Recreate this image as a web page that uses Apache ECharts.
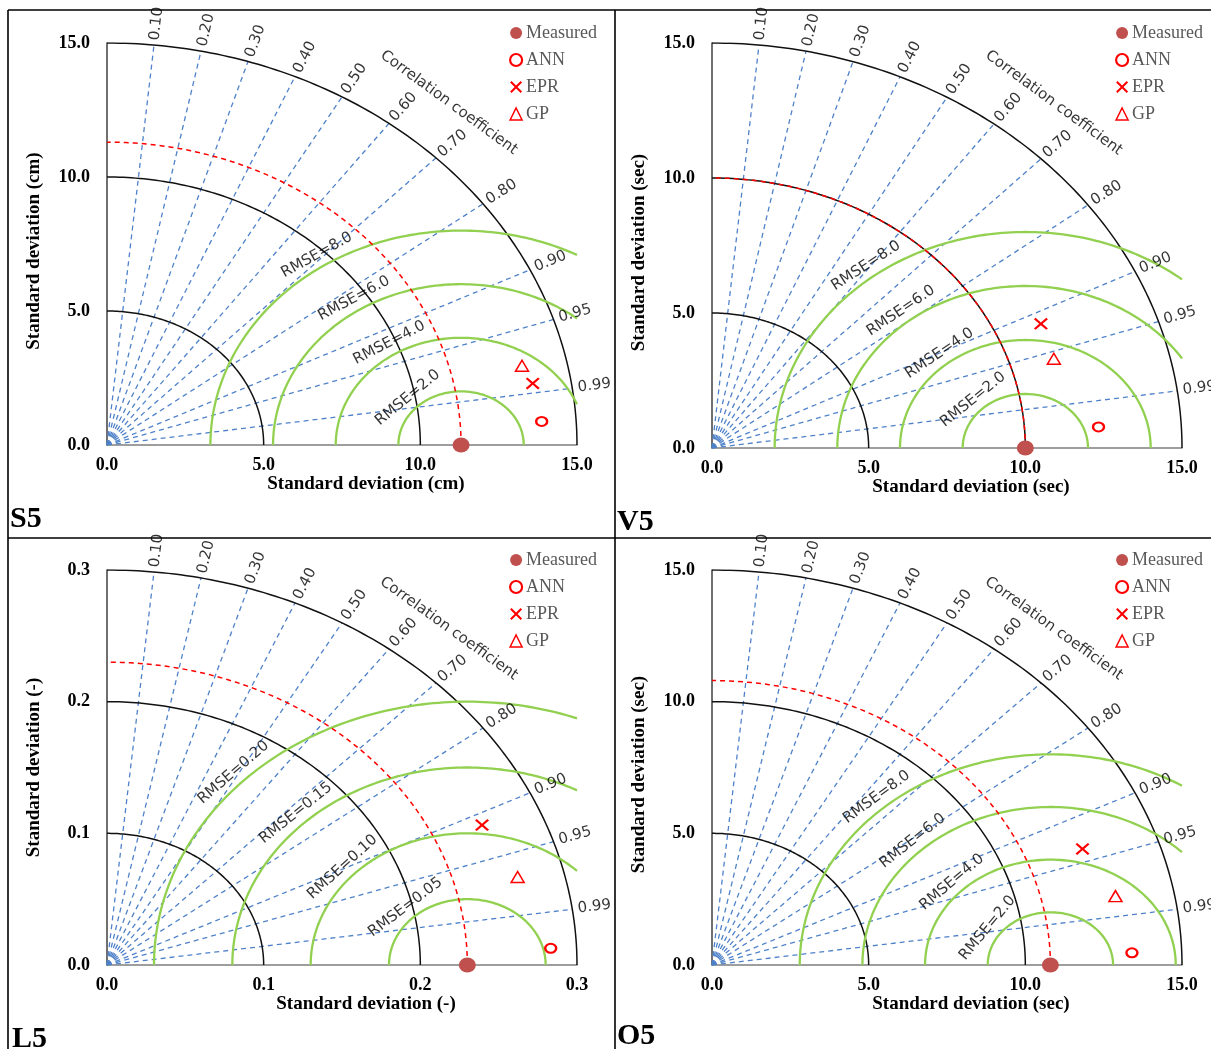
<!DOCTYPE html>
<html>
<head>
<meta charset="utf-8">
<script src="https://cdn.jsdelivr.net/npm/echarts@6/dist/echarts.min.js"></script>
<style>
html, body { margin: 0; padding: 0; background: #fff; }
#main { width: 1211px; height: 1049px; }
</style>
</head>
<body>
<div id="main"></div>
<script>
// panels: S5, V5, L5, O5
var panelNames = ['S5', 'V5', 'L5', 'O5'];
var panelUnits = ['cm', 'sec', '-', 'sec'];
var axisMax = [15, 15, 0.3, 15];
var axisStep = [5, 5, 0.1, 5];
var stdArcs = [[5, 10, 15], [5, 10, 15], [0.1, 0.2, 0.3], [5, 10, 15]];
var rmseLevels = [[2, 4, 6, 8], [2, 4, 6, 8], [0.05, 0.10, 0.15, 0.20], [2, 4, 6, 8]];
var rmseDigits = [1, 1, 2, 1];
var corrTicks = [0.10, 0.20, 0.30, 0.40, 0.50, 0.60, 0.70, 0.80, 0.90, 0.95, 0.99];

// standard deviation and correlation of each model
var measuredStd = [11.3, 10.0, 0.23, 10.8];
var annStd = [13.90, 12.36, 0.2835, 13.41];
var annCorr = [0.998, 0.998, 0.999, 0.9994];
var eprStd = [13.78, 11.46, 0.2619, 12.62];
var eprCorr = [0.986, 0.916, 0.914, 0.937];
var gpStd = [13.57, 11.40, 0.2705, 13.14];
var gpCorr = [0.976, 0.957, 0.969, 0.980];

// layout
var gridLeft = [107, 712, 107, 712];
var gridTop = [43, 43, 570, 570];
var gridWidth = 470;
var gridHeight = [402, 405, 395, 395];
var yNameShift = [7, 7, 0, 7];
var legendLeft = [504, 1110, 504, 1110];
var legendTop = [19, 19, 546, 546];
var letterX = [10, 617, 12, 617];
var letterY = [519, 522, 1039, 1036];
// angle (deg, from measured point) where each RMSE label sits
var rmseLabelAngle = [[134, 121, 122, 123], [133, 128, 128, 127], [132, 137, 133.5, 135.6], [145, 135, 133, 131]];

var serif = '"Liberation Serif", "Times New Roman", serif';
var sans = '"DejaVu Sans", Verdana, sans-serif';
var xPath = 'path://M1.2,0L5,3.8L8.8,0L10,1.2L6.2,5L10,8.8L8.8,10L5,6.2L1.2,10L0,8.8L3.8,5L0,1.2Z';

function toXY(std, r) {
    var a = Math.acos(r);
    return [std * Math.cos(a), std * Math.sin(a)];
}

// data direction -> screen angle in degrees
function screenAngle(i, dx, dy) {
    var sx = gridWidth / axisMax[i], sy = gridHeight[i] / axisMax[i];
    return Math.atan2(dy * sy, dx * sx) * 180 / Math.PI;
}

function arcPoints(cx, r, a0, a1) {
    var pts = [];
    var n = 120;
    for (var k = 0; k <= n; k++) {
        var a = a0 + (a1 - a0) * k / n;
        pts.push([cx + r * Math.cos(a), r * Math.sin(a)]);
    }
    return pts;
}

var chart = echarts.init(document.getElementById('main'));
var option = {
    animation: false,
    backgroundColor: '#fff',
    grid: [], xAxis: [], yAxis: [], legend: [], series: [], graphic: []
};

for (var i = 0; i < 4; i++) {
    var max = axisMax[i];
    var name = 'Standard deviation (' + panelUnits[i] + ')';

    option.grid.push({left: gridLeft[i], top: gridTop[i], width: gridWidth, height: gridHeight[i]});
    option.xAxis.push({
        gridIndex: i, type: 'value', min: 0, max: max, interval: axisStep[i],
        axisLine: {lineStyle: {color: '#7f7f7f', width: 1.5}},
        axisTick: {show: false}, splitLine: {show: false},
        axisLabel: {margin: 11, fontFamily: serif, fontWeight: 'bold', fontSize: 18, color: '#000',
            formatter: function (v) { return v.toFixed(1); }},
        name: name, nameLocation: 'middle', nameGap: 28,
        nameTextStyle: {fontFamily: serif, fontWeight: 'bold', fontSize: 19, color: '#000', padding: [0, 0, 0, 48]}
    });
    option.yAxis.push({
        gridIndex: i, type: 'value', min: 0, max: max, interval: axisStep[i],
        axisLine: {lineStyle: {color: '#404040', width: 1.5}},
        axisTick: {show: false}, splitLine: {show: false},
        axisLabel: {margin: 17, fontFamily: serif, fontWeight: 'bold', fontSize: 18, color: '#000',
            formatter: function (v) { return v.toFixed(1); }},
        name: name, nameLocation: 'middle', nameGap: 63,
        nameTextStyle: {fontFamily: serif, fontWeight: 'bold', fontSize: 19, color: '#000',
            padding: [0, yNameShift[i] * 2, 0, 0]}
    });

    option.legend.push({
        left: legendLeft[i], top: legendTop[i], orient: 'vertical',
        itemWidth: 12, itemHeight: 12, itemGap: 9, selectedMode: false,
        textStyle: {fontFamily: serif, fontSize: 18, color: '#595959', padding: [0, 0, 0, -1]},
        data: [
            {name: 'Measured', icon: 'circle', itemStyle: {color: '#C0504D'}},
            {name: 'ANN', icon: 'circle', itemStyle: {color: '#fff', borderColor: '#ff0000', borderWidth: 2.2}},
            {name: 'EPR', icon: xPath, itemStyle: {color: '#ff0000'}},
            {name: 'GP', icon: 'triangle', itemStyle: {color: '#fff', borderColor: '#ff0000', borderWidth: 1.5}}
        ]
    });

    var axisRef = {coordinateSystem: 'cartesian2d', xAxisIndex: i, yAxisIndex: i};

    // correlation rays
    option.series.push(Object.assign({
        type: 'lines', z: 1, silent: true,
        lineStyle: {color: '#4f82c9', width: 1.3, type: [5, 4], opacity: 1},
        data: corrTicks.map(function (c) { return {coords: [[0, 0], toXY(max, c)]}; })
    }, axisRef));

    // std arcs
    option.series.push(Object.assign({
        type: 'lines', polyline: true, z: 2, silent: true,
        lineStyle: {color: '#111', width: 1.5, opacity: 1},
        data: stdArcs[i].map(function (r) { return {coords: arcPoints(0, r, 0, Math.PI / 2)}; })
    }, axisRef));

    // RMSE arcs round the measured point, cut at x = max
    var c0 = measuredStd[i];
    option.series.push(Object.assign({
        type: 'lines', polyline: true, z: 3, silent: true,
        lineStyle: {color: '#92D050', width: 2.3, opacity: 1},
        data: rmseLevels[i].map(function (r) {
            var a0 = c0 + r > max ? Math.acos((max - c0) / r) : 0;
            return {coords: arcPoints(c0, r, a0, Math.PI)};
        })
    }, axisRef));

    // measured std arc
    option.series.push(Object.assign({
        type: 'lines', polyline: true, z: 4, silent: true,
        lineStyle: {color: '#ff0000', width: 1.5, type: [5, 4], opacity: 1},
        data: [{coords: arcPoints(0, c0, 0, Math.PI / 2)}]
    }, axisRef));

    // points
    option.series.push(Object.assign({
        name: 'Measured', type: 'scatter', z: 6, symbol: 'circle', symbolSize: [17, 15],
        itemStyle: {color: '#C0504D', opacity: 1}, data: [[c0, 0]], clip: false
    }, axisRef));
    option.series.push(Object.assign({
        name: 'ANN', type: 'scatter', z: 6, symbol: 'circle', symbolSize: [11, 9],
        itemStyle: {color: '#fff', borderColor: '#ff0000', borderWidth: 2.2, opacity: 1},
        data: [toXY(annStd[i], annCorr[i])]
    }, axisRef));
    option.series.push(Object.assign({
        name: 'EPR', type: 'scatter', z: 6, symbol: xPath, symbolSize: [14, 12],
        itemStyle: {color: '#ff0000', opacity: 1},
        data: [toXY(eprStd[i], eprCorr[i])]
    }, axisRef));
    option.series.push(Object.assign({
        name: 'GP', type: 'scatter', z: 6, symbol: 'triangle', symbolSize: [13, 11],
        itemStyle: {color: '#fff', borderColor: '#ff0000', borderWidth: 1.5, opacity: 1},
        data: [toXY(gpStd[i], gpCorr[i])]
    }, axisRef));

    // text: correlation ticks, axis title, RMSE labels
    var textData = [];
    corrTicks.forEach(function (c) {
        var a = Math.acos(c);
        textData.push({
            value: [1.012 * max * Math.cos(a), 1.012 * max * Math.sin(a)],
            label: {formatter: c.toFixed(2), rotate: screenAngle(i, Math.cos(a), Math.sin(a)), align: 'left'}
        });
    });
    var ca = 49.5 * Math.PI / 180;
    textData.push({
        value: [1.12 * max * Math.cos(ca), 1.12 * max * Math.sin(ca)],
        label: {formatter: 'Correlation coefficient', rotate: screenAngle(i, Math.sin(ca), -Math.cos(ca)), align: 'center'}
    });
    rmseLevels[i].forEach(function (r, k) {
        var a = rmseLabelAngle[i][k] * Math.PI / 180;
        var d = r + 0.03 * max;
        textData.push({
            value: [c0 + d * Math.cos(a), d * Math.sin(a)],
            label: {formatter: 'RMSE=' + r.toFixed(rmseDigits[i]), rotate: screenAngle(i, Math.sin(a), -Math.cos(a)), align: 'center'}
        });
    });
    option.series.push(Object.assign({
        type: 'scatter', z: 7, silent: true, symbolSize: 1, clip: false,
        itemStyle: {color: 'rgba(0,0,0,0)'},
        label: {show: true, position: 'inside', verticalAlign: 'middle',
            fontFamily: sans, fontSize: 15, color: '#000'},
        data: textData
    }, axisRef));

    option.graphic.push({
        type: 'text', x: letterX[i], y: letterY[i], silent: true,
        style: {text: panelNames[i], font: 'bold 30px ' + serif, fill: '#000', align: 'left', verticalAlign: 'middle'}
    });
}

// panel frame
[[8, 10, 1211, 10], [8, 10, 8, 1049], [615, 10, 615, 1049], [8, 538, 1211, 538]].forEach(function (s) {
    option.graphic.push({
        type: 'line', silent: true,
        shape: {x1: s[0], y1: s[1], x2: s[2], y2: s[3]},
        style: {stroke: '#000', lineWidth: 1.6}
    });
});

chart.setOption(option);
</script>
</body>
</html>
